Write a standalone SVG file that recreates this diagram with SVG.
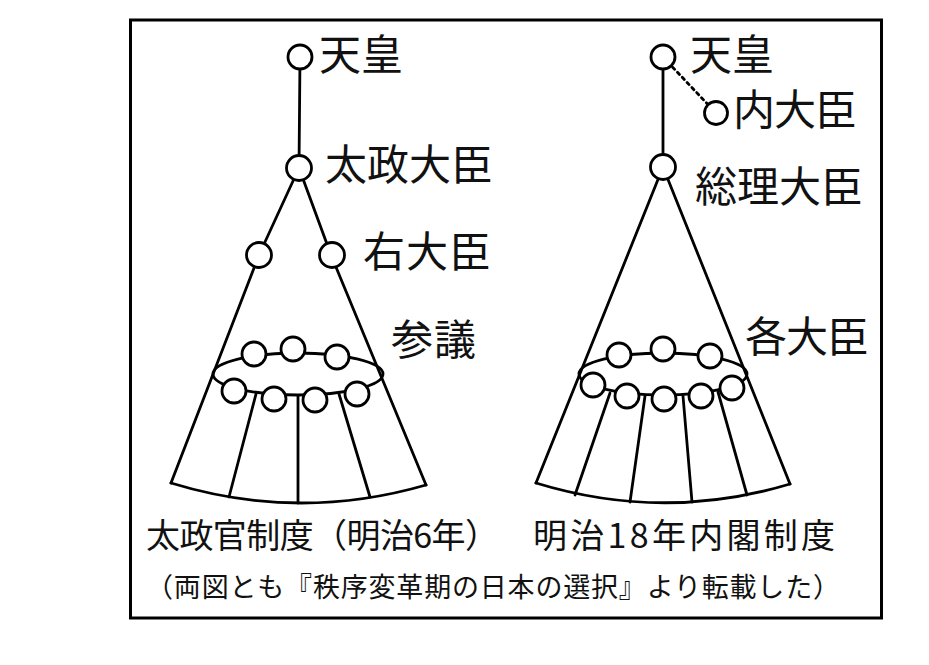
<svg xmlns="http://www.w3.org/2000/svg" width="929" height="665" viewBox="0 0 929 665">
<style>
.ln{fill:none;stroke:#000;stroke-width:2.8;stroke-linecap:round}
.nd{fill:#fff;stroke:#000;stroke-width:2.8}
.lb{font-family:"Noto Sans CJK JP","Noto Sans CJK SC",sans-serif;font-size:42px;fill:#111}
.tt{font-family:"Noto Sans CJK JP","Noto Sans CJK SC",sans-serif;font-size:34px;fill:#111}
.cp{font-family:"Noto Sans CJK JP","Noto Sans CJK SC",sans-serif;font-size:27px;fill:#111}
</style>
<rect width="929" height="665" fill="#fff"/>
<rect x="130.5" y="20" width="751" height="598" fill="none" stroke="#000" stroke-width="3"/>
<g id="connectors">
<line class="ln" x1="300" y1="57" x2="299" y2="168"/>
<line class="ln" x1="299" y1="168" x2="259" y2="255"/>
<line class="ln" x1="299" y1="168" x2="331" y2="255"/>
<line class="ln" x1="259" y1="255" x2="171" y2="483"/>
<line class="ln" x1="331" y1="255" x2="426" y2="485"/>
<path class="ln" d="M171,483 Q298,522 426,485"/>
<ellipse class="ln" cx="298" cy="374" rx="85" ry="21"/>
<line class="ln" x1="256" y1="394" x2="229" y2="497"/>
<line class="ln" x1="298" y1="396" x2="298" y2="503"/>
<line class="ln" x1="339" y1="394" x2="370" y2="497"/>
<line class="ln" x1="663" y1="57" x2="663" y2="167"/>
<line class="ln" x1="663" y1="57" x2="716" y2="113" stroke-dasharray="3 4" stroke-linecap="butt"/>
<line class="ln" x1="663" y1="167" x2="536" y2="483"/>
<line class="ln" x1="663" y1="167" x2="790" y2="484"/>
<path class="ln" d="M536,483 Q663,522 790,484"/>
<ellipse class="ln" cx="663" cy="374" rx="84" ry="21"/>
<line class="ln" x1="610" y1="393" x2="575" y2="495"/>
<line class="ln" x1="645" y1="396" x2="630" y2="502"/>
<line class="ln" x1="683" y1="396" x2="692" y2="502"/>
<line class="ln" x1="718" y1="392" x2="747" y2="495"/>
</g>
<g id="left-tenno"><circle class="nd" cx="300" cy="57" r="12"/><text class="lb" x="319" y="70">天皇</text></g>
<g id="left-dajodaijin"><circle class="nd" cx="299" cy="168" r="12.5"/><text class="lb" x="325" y="180" textLength="168">太政大臣</text></g>
<g id="udaijin"><circle class="nd" cx="259" cy="255" r="12.5"/><circle class="nd" cx="332" cy="255" r="12.5"/><text class="lb" x="363" y="267" textLength="128">右大臣</text></g>
<g id="sangi">
<circle class="nd" cx="254" cy="354" r="12"/><circle class="nd" cx="293" cy="349" r="12"/><circle class="nd" cx="337" cy="357" r="12"/>
<circle class="nd" cx="234" cy="391" r="12"/><circle class="nd" cx="274" cy="399" r="12"/><circle class="nd" cx="315" cy="400" r="12"/><circle class="nd" cx="357" cy="394" r="12"/>
<text class="lb" x="391" y="355" textLength="85">参議</text></g>
<g id="right-tenno"><circle class="nd" cx="663" cy="57" r="12"/><text class="lb" x="690" y="70">天皇</text></g>
<g id="naidaijin"><circle class="nd" cx="716" cy="113" r="11.5"/><text class="lb" x="733" y="125" textLength="124">内大臣</text></g>
<g id="sori"><circle class="nd" cx="663" cy="167" r="12.5"/><text class="lb" x="695" y="202" textLength="168">総理大臣</text></g>
<g id="kakudaijin">
<circle class="nd" cx="619" cy="355" r="12"/><circle class="nd" cx="663" cy="349" r="12"/><circle class="nd" cx="710" cy="356" r="12"/>
<circle class="nd" cx="593" cy="385" r="12"/><circle class="nd" cx="627" cy="396" r="12"/><circle class="nd" cx="664" cy="399" r="12"/><circle class="nd" cx="701" cy="396" r="12"/><circle class="nd" cx="732" cy="388" r="12"/>
<text class="lb" x="745" y="352" textLength="124">各大臣</text></g>
<g id="titles">
<text class="tt" x="146" y="548" textLength="353">太政官制度（明治6年）</text>
<text class="tt" x="533" y="548" textLength="302">明治18年内閣制度</text>
<text class="cp" x="146" y="597" textLength="694">（両図とも『秩序変革期の日本の選択』より転載した）</text>
</g>
</svg>
